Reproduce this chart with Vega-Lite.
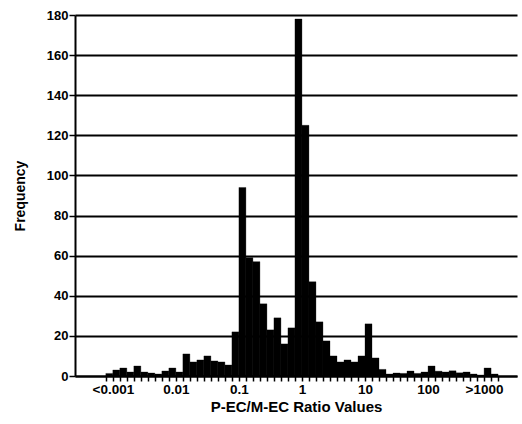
{
  "$schema": "https://vega.github.io/schema/vega-lite/v6.json",
  "width": 442,
  "height": 361,
  "autosize": {"type": "none"},
  "padding": {"left": 75, "top": 15, "right": 5, "bottom": 48},
  "background": "white",
  "config": {"view": {"stroke": null}, "font": "Liberation Sans"},
  "data": {
    "values": [
      {"lo": -28, "hi": -27, "count": 1.3},
      {"lo": -27, "hi": -26, "count": 3},
      {"lo": -26, "hi": -25, "count": 4},
      {"lo": -25, "hi": -24, "count": 2},
      {"lo": -24, "hi": -23, "count": 5},
      {"lo": -23, "hi": -22, "count": 2},
      {"lo": -22, "hi": -21, "count": 1.5},
      {"lo": -21, "hi": -20, "count": 1},
      {"lo": -20, "hi": -19, "count": 2.5},
      {"lo": -19, "hi": -18, "count": 4},
      {"lo": -18, "hi": -17, "count": 2},
      {"lo": -17, "hi": -16, "count": 11},
      {"lo": -16, "hi": -15, "count": 7},
      {"lo": -15, "hi": -14, "count": 8},
      {"lo": -14, "hi": -13, "count": 10},
      {"lo": -13, "hi": -12, "count": 7.5},
      {"lo": -12, "hi": -11, "count": 7},
      {"lo": -11, "hi": -10, "count": 5.5},
      {"lo": -10, "hi": -9, "count": 22},
      {"lo": -9, "hi": -8, "count": 94},
      {"lo": -8, "hi": -7, "count": 59},
      {"lo": -7, "hi": -6, "count": 57},
      {"lo": -6, "hi": -5, "count": 36},
      {"lo": -5, "hi": -4, "count": 23},
      {"lo": -4, "hi": -3, "count": 29},
      {"lo": -3, "hi": -2, "count": 16},
      {"lo": -2, "hi": -1, "count": 24},
      {"lo": -1, "hi": 0, "count": 178},
      {"lo": 0, "hi": 1, "count": 125},
      {"lo": 1, "hi": 2, "count": 47},
      {"lo": 2, "hi": 3, "count": 27},
      {"lo": 3, "hi": 4, "count": 17.5},
      {"lo": 4, "hi": 5, "count": 10},
      {"lo": 5, "hi": 6, "count": 7},
      {"lo": 6, "hi": 7, "count": 8},
      {"lo": 7, "hi": 8, "count": 7},
      {"lo": 8, "hi": 9, "count": 10},
      {"lo": 9, "hi": 10, "count": 26},
      {"lo": 10, "hi": 11, "count": 9},
      {"lo": 11, "hi": 12, "count": 3.3},
      {"lo": 12, "hi": 13, "count": 1},
      {"lo": 13, "hi": 14, "count": 1.5},
      {"lo": 14, "hi": 15, "count": 1.3},
      {"lo": 15, "hi": 16, "count": 2.5},
      {"lo": 16, "hi": 17, "count": 1.3},
      {"lo": 17, "hi": 18, "count": 2},
      {"lo": 18, "hi": 19, "count": 5},
      {"lo": 19, "hi": 20, "count": 2.4},
      {"lo": 20, "hi": 21, "count": 2},
      {"lo": 21, "hi": 22, "count": 2.6},
      {"lo": 22, "hi": 23, "count": 1.6},
      {"lo": 23, "hi": 24, "count": 2},
      {"lo": 24, "hi": 25, "count": 1},
      {"lo": 25, "hi": 26, "count": 0.5},
      {"lo": 26, "hi": 27, "count": 4},
      {"lo": 27, "hi": 28, "count": 1}
    ]
  },
  "mark": {"type": "bar", "color": "black", "stroke": "black", "strokeWidth": 0.3},
  "encoding": {
    "x": {
      "field": "lo",
      "type": "quantitative",
      "scale": {"domain": [-32.4, 30.7], "nice": false, "zero": false},
      "axis": {
        "title": "P-EC/M-EC Ratio Values",
        "values": [-28,-27,-26,-25,-24,-23,-22,-21,-20,-19,-18,-17,-16,-15,-14,-13,-12,-11,-10,-9,-8,-7,-6,-5,-4,-3,-2,-1,0,1,2,3,4,5,6,7,8,9,10,11,12,13,14,15,16,17,18,19,20,21,22,23,24,25,26,27,28],
        "labelExpr": "datum.value == -27 ? '<0.001' : datum.value == -18 ? '0.01' : datum.value == -9 ? '0.1' : datum.value == 0 ? '1' : datum.value == 9 ? '10' : datum.value == 18 ? '100' : datum.value == 26 ? '>1000' : ''",
        "labelOverlap": false,
        "labelFlush": false,
        "grid": false,
        "domainColor": "black",
        "domainWidth": 2,
        "tickColor": "black",
        "tickSize": 5,
        "tickWidth": 1.5,
        "labelFont": "Liberation Sans",
        "labelFontWeight": "bold",
        "labelFontSize": 13.5,
        "labelColor": "black",
        "labelPadding": 1,
        "titleFont": "Liberation Sans",
        "titleFontWeight": "bold",
        "titleFontSize": 15,
        "titleColor": "black",
        "titlePadding": 4
      }
    },
    "x2": {"field": "hi"},
    "y": {
      "field": "count",
      "type": "quantitative",
      "scale": {"domain": [0, 180], "nice": false},
      "axis": {
        "title": "Frequency",
        "values": [0, 20, 40, 60, 80, 100, 120, 140, 160, 180],
        "grid": true,
        "gridColor": "black",
        "gridWidth": 2,
        "gridOpacity": 1,
        "domainColor": "black",
        "domainWidth": 2,
        "tickColor": "black",
        "tickSize": 6,
        "tickWidth": 1.5,
        "labelFont": "Liberation Sans",
        "labelFontWeight": "bold",
        "labelFontSize": 13,
        "labelColor": "black",
        "labelPadding": 1,
        "titleFont": "Liberation Sans",
        "titleFontWeight": "bold",
        "titleFontSize": 14,
        "titleColor": "black",
        "titlePadding": 19
      }
    },
    "y2": {"datum": 0}
  }
}
